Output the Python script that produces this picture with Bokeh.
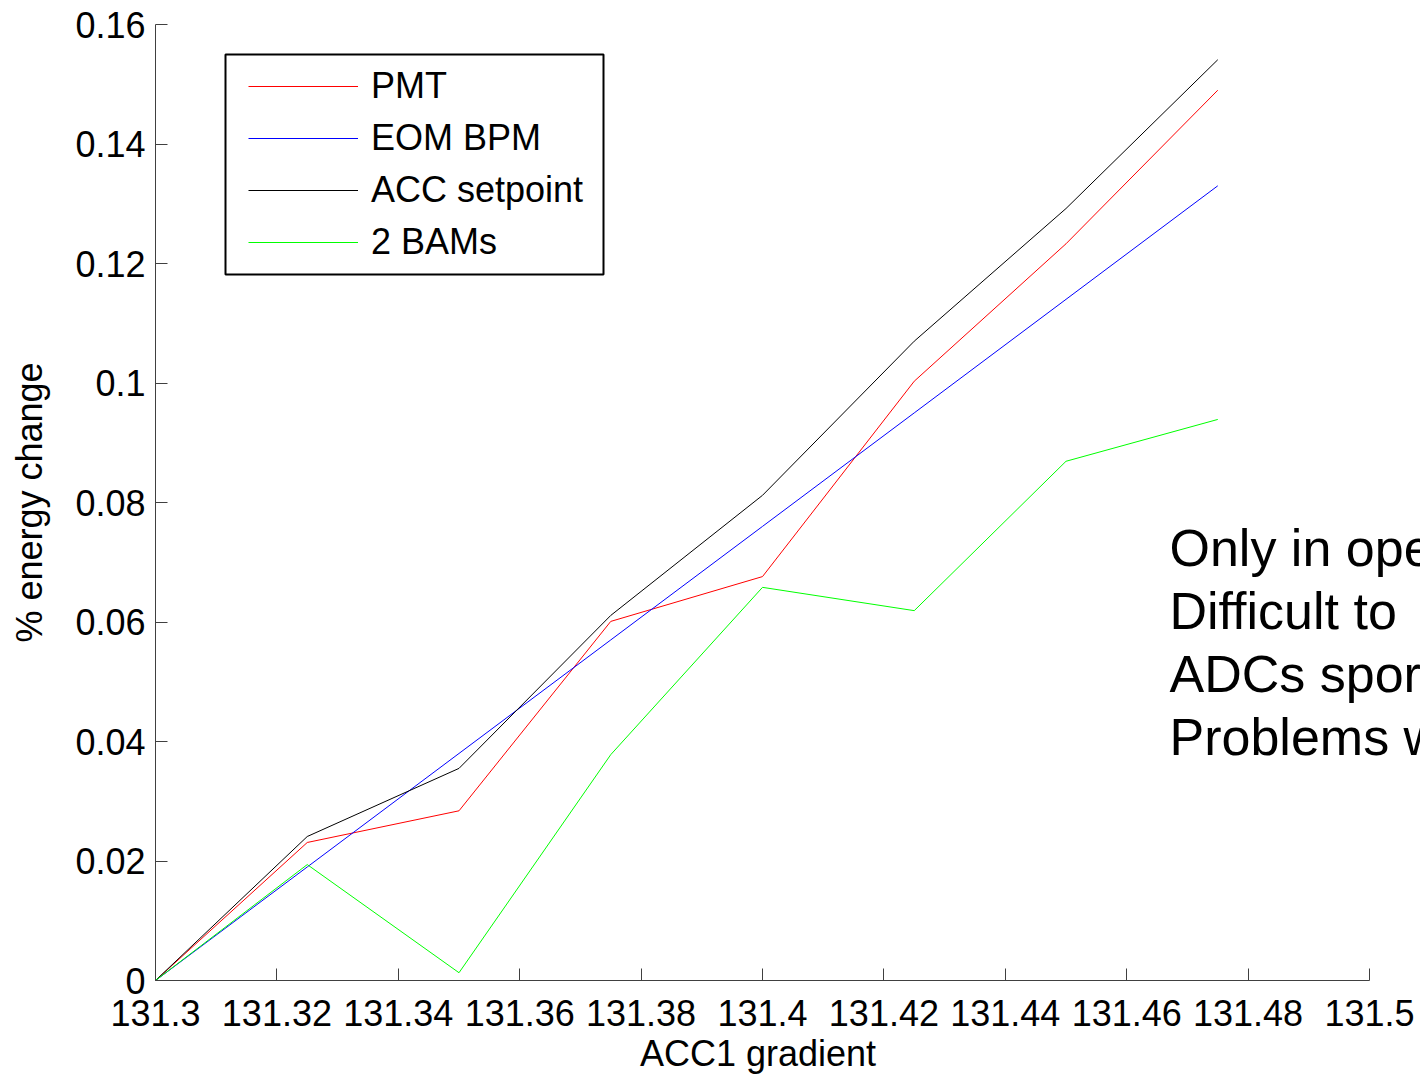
from bokeh.plotting import figure
from bokeh.models import FixedTicker, Legend, LegendItem, Label, BoxAnnotation
from bokeh.embed import file_html
from bokeh.resources import INLINE

# ---- data ----
x_vals = [131.3, 131.325, 131.35, 131.375, 131.4, 131.425, 131.45, 131.475]
pmt = [0.0, 0.0231, 0.0284, 0.0601, 0.0676, 0.1003, 0.1233, 0.1490]
eom_bpm = [0.0, 0.0190, 0.0380, 0.0570, 0.0760, 0.0950, 0.1140, 0.1330]
acc_setpoint = [0.0, 0.0241, 0.0355, 0.0611, 0.0812, 0.1070, 0.1292, 0.1541]
two_bams = [0.0, 0.0194, 0.0013, 0.0378, 0.0658, 0.0619, 0.0869, 0.0939]

series_names = ["PMT", "EOM BPM", "ACC setpoint", "2 BAMs"]
series_colors = ["#ff0000", "#0000ff", "#000000", "#00ff00"]

x_ticks = [131.3, 131.32, 131.34, 131.36, 131.38, 131.4, 131.42, 131.44, 131.46, 131.48, 131.5]
x_tick_labels = ["131.3", "131.32", "131.34", "131.36", "131.38", "131.4", "131.42", "131.44", "131.46", "131.48", "131.5"]
y_ticks = [0, 0.02, 0.04, 0.06, 0.08, 0.1, 0.12, 0.14, 0.16]
y_tick_labels = ["0", "0.02", "0.04", "0.06", "0.08", "0.1", "0.12", "0.14", "0.16"]

x_title = "ACC1 gradient"
y_title = "% energy change"
side_notes = ["Only in ope", "Difficult to", "ADCs spor", "Problems w"]

FONT = "Liberation Sans"

# frame spans 155..1420 px; axis itself ends at 131.5 (1369 px)
X0, X1 = 131.3, 131.5
x_end = X1 + (1420 - 1369) / (1369 - 155) * (X1 - X0)

p = figure(width=1420, height=1076, output_backend="svg", toolbar_location=None,
           x_range=(X0, x_end), y_range=(0, 0.16),
           min_border_left=155, min_border_right=0, min_border_top=24, min_border_bottom=96)
p.outline_line_color = None
p.grid.visible = False
p.background_fill_color = "white"
p.border_fill_color = "white"

renderers = []
for ys, c in zip([pmt, eom_bpm, acc_setpoint, two_bams], series_colors):
    r = p.line(x_vals, ys, line_color=c, line_width=1)
    renderers.append(r)

# legend frame (black border box around the legend)
px_x = (X1 - X0) / (1369 - 155)
px_y = 0.16 / 956
p.add_layout(BoxAnnotation(left=X0 + 70 * px_x, right=X0 + 448 * px_x,
                           bottom=(980 - 274) * px_y, top=(980 - 54) * px_y,
                           fill_color="white", fill_alpha=1,
                           line_color="black", line_width=2, line_alpha=1,
                           level="underlay"))

legend = Legend(items=[LegendItem(label=n, renderers=[r]) for n, r in zip(series_names, renderers)],
                location=(82, 706))
legend.label_text_font = FONT
legend.label_text_font_size = "36px"
legend.label_text_color = "#000000"
legend.glyph_width = 110
legend.glyph_height = 30
legend.label_height = 30
legend.label_standoff = 13
legend.padding = 11
legend.spacing = 10
legend.margin = 0
legend.border_line_alpha = 0
legend.background_fill_alpha = 0
p.add_layout(legend, "center")

for ax in (p.xaxis[0], p.yaxis[0]):
    ax.axis_line_color = "#404040"
    ax.major_tick_line_color = "#404040"
    ax.minor_tick_line_color = None
    ax.major_tick_out = 0
    ax.major_tick_in = 12
    ax.major_label_text_font = FONT
    ax.major_label_text_font_size = "36px"
    ax.major_label_text_color = "black"
    ax.axis_label_text_font = FONT
    ax.axis_label_text_font_size = "36px"
    ax.axis_label_text_font_style = "normal"
    ax.axis_label_text_color = "black"

p.xaxis.bounds = (X0, X1)
p.xaxis.ticker = FixedTicker(ticks=x_ticks)
p.xaxis.major_label_overrides = {t: l for t, l in zip(x_ticks, x_tick_labels)}
p.yaxis.ticker = FixedTicker(ticks=y_ticks)
p.yaxis.major_label_overrides = {t: l for t, l in zip(y_ticks, y_tick_labels)}
# pad so the title centres under the axis span (the frame extends past it)
p.xaxis.axis_label = x_title + "\u00a0" * 6
p.yaxis.axis_label = y_title
p.xaxis.major_label_standoff = 19
p.xaxis.axis_label_standoff = 4
p.yaxis.major_label_standoff = 10
p.yaxis.axis_label_standoff = 22

for i, t in enumerate(side_notes):
    p.add_layout(Label(x=1169 - 155, y=(980 - 547) - i * 63.3,
                       x_units="screen", y_units="screen", text=t,
                       text_font=FONT, text_font_size="52px", text_baseline="middle",
                       text_align="left", text_color="black"))

open("out.html", "w").write(file_html(p, INLINE))
